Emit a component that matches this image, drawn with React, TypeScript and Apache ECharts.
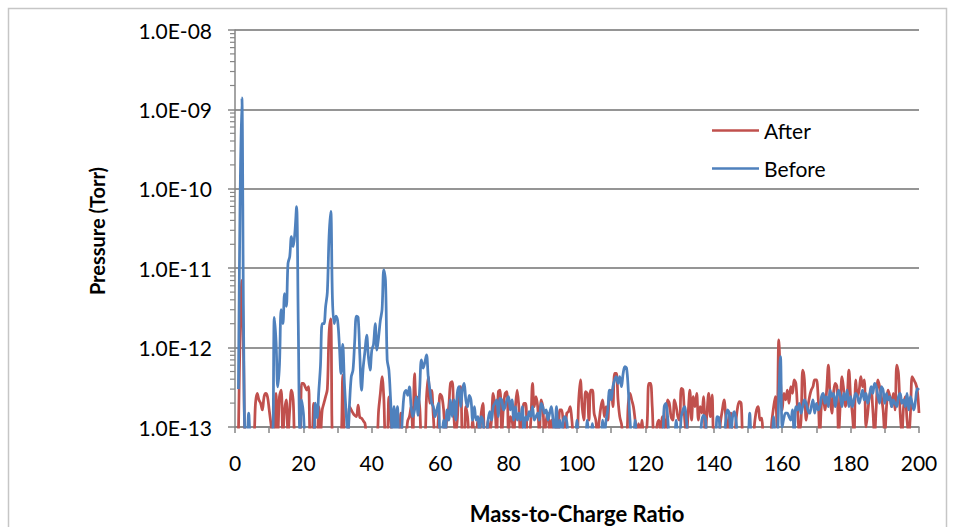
import React, { useEffect, useRef } from "react";
import * as echarts from "echarts";

// Mass-to-charge grid: first value and spacing (amu)
const MZ_START = 1;
const MZ_STEP = 0.5;
// Pressure values are given in units of 1e-13 Torr
const UNIT = 1e-13;

const seriesNames = ["After", "Before"];

// After (red), m/z 1.0 .. 200.0 every 0.5
const afterValues = [
  0.8, 15, 70, 8, 0.8, 0.8, 0.8, 0.8, 0.8, 0.8,
  2.0, 2.65, 2.19, 1.99, 1.64, 2.41, 2.65, 2.41, 1.64, 1.11,
  0.8, 0.8, 2.65, 0.8, 2.41, 2.92, 0.8, 1.64, 2.19, 0.8,
  1.64, 2.92, 2.19, 0.8, 0.8, 0.8, 0.8, 3.55, 3.55, 3.22,
  2.92, 3.22, 0.8, 0.8, 1.99, 0.8, 0.8, 1.8, 0.8, 1.64,
  2.0, 2.41, 3, 15, 23, 0.8, 0.8, 0.8, 0.8, 0.8,
  0.8, 4.5, 0.8, 0.8, 0.8, 1.8, 1.64, 1.5, 1.4, 1.35,
  1.89, 1.32, 1.29, 1.2, 1.11, 0.8, 0.8, 0.8, 0.8, 0.8,
  0.8, 0.8, 1.64, 2.65, 4.3, 2.4, 0.8, 0.8, 2.4, 1.35,
  0.8, 0.8, 0.8, 0.8, 0.8, 1.5, 0.8, 0.8, 0.8, 1.2,
  1.35, 1.8, 0.8, 4.7, 2.2, 2.4, 1.8, 0.8, 0.8, 0.8,
  2.4, 4.3, 2.0, 2.9, 1.35, 0.8, 0.8, 1.35, 2.6, 2.4,
  1.64, 0.8, 1.35, 1.8, 3.55, 3.72, 1.35, 0.8, 1.22, 3.07,
  3.22, 0.8, 0.8, 1.8, 1.35, 0.8, 0.8, 1.22, 0.8, 0.8,
  1.22, 0.8, 1.49, 1.99, 0.8, 0.8, 1.22, 0.8, 1.22, 2.65,
  1.8, 0.8, 2.78, 2.92, 0.8, 1.8, 2.65, 2.78, 0.8, 1.35,
  1.22, 0.8, 1.8, 2.92, 1.8, 0.8, 1.22, 1.99, 1.99, 0.8,
  0.8, 1.22, 3.55, 1.8, 2.41, 1.8, 0.8, 2.19, 1.8, 0.8,
  1.22, 1.49, 0.8, 1.22, 0.8, 0.8, 1.22, 0.8, 1.64, 1.64,
  1.1, 0.8, 1.49, 1.56, 1.8, 1.22, 0.8, 0.8, 0.8, 2.19,
  3.91, 1.8, 1.22, 2.78, 2.65, 1.22, 2.92, 2.92, 1.49, 1.22,
  0.8, 1.22, 1.8, 2.19, 1.35, 1.8, 1.22, 2.65, 2.92, 1.8,
  4.74, 4.74, 2.19, 1.35, 1.1, 0.8, 0.8, 0.8, 1.99, 2.65,
  2.19, 1.8, 1.22, 0.8, 1.1, 0.8, 1.22, 0.8, 0.8, 1.1,
  3.55, 3.55, 1.8, 0.8, 0.8, 1.1, 1.22, 0.8, 1.35, 1.22,
  0.8, 2.19, 1.99, 1.35, 1.22, 2.19, 1.8, 1.35, 1.22, 3.07,
  2.92, 1.22, 0.8, 1.5, 2.92, 1.22, 2.41, 1.8, 2.65, 1.22,
  1.8, 1.5, 2.41, 0.8, 1.5, 2.65, 1.35, 2.53, 0.8, 0.8,
  0.8, 0.8, 1.2, 1.64, 2.19, 1.35, 0.8, 1.35, 1.5, 0.8,
  0.8, 1.22, 1.8, 2.09, 1.99, 0.8, 0.8, 0.8, 0.8, 0.8,
  0.8, 0.8, 1.2, 1.64, 1.8, 1.22, 1.29, 0.8, 0.8, 0.8,
  0.8, 0.8, 1.22, 1.8, 2.41, 1.0, 12.5, 4, 1.64, 2.65,
  2.19, 2.92, 1.99, 3.22, 2.65, 3.91, 3.55, 1.64, 0.9, 1.2,
  5.2, 3.91, 1.22, 1.8, 2.41, 2.92, 3.22, 3.91, 3.91, 2.41,
  0.8, 1.99, 2.41, 1.64, 2.92, 6.0, 2.41, 1.49, 2.65, 3.55,
  3.22, 0.8, 1.99, 4.3, 2.92, 1.8, 2.41, 5.2, 2.41, 1.49,
  0.8, 3.91, 2.41, 2.92, 4.3, 3.22, 3.91, 1.0, 1.49, 2.41,
  2.92, 1.64, 0.8, 1.8, 3.91, 3.22, 2.41, 1.64, 0.8, 1.8,
  2.92, 2.41, 1.8, 2.65, 1.64, 6.0, 4.74, 1.49, 0.8, 1.8,
  2.41, 1.22, 0.8, 1.49, 4.3, 3.91, 3.55, 2.92, 1.5,
];

// Before (blue), m/z 1.0 .. 200.0 every 0.5
const beforeValues = [
  3.0, 800, 14000, 20, 0.8, 0.8, 1.5, 0.8, 0.8, 0.8,
  0.8, 0.8, 0.8, 0.8, 0.8, 0.8, 0.8, 0.8, 0.8, 0.8,
  0.8, 24, 12, 3.2, 6, 30, 20, 48, 33, 115,
  140, 250, 187, 276, 596, 20, 0.8, 2.2, 1.5, 0.8,
  0.8, 0.8, 0.8, 0.8, 0.8, 2.0, 1.3, 2.8, 6, 20,
  20, 33, 50, 250, 520, 40, 20, 25, 22, 11,
  4.7, 11, 3.5, 1.5, 0.8, 2, 4.3, 5.2, 12, 25,
  24, 8, 2.9, 5.7, 9, 14.4, 7.7, 5.2, 9.3, 11,
  20, 9.3, 13.7, 22, 30, 95, 70, 7, 5.2, 2.2,
  0.8, 1.8, 0.8, 1.8, 0.8, 0.8, 1.5, 2.65, 2.9, 2.5,
  3.2, 1.8, 1.35, 1.64, 2.4, 1.4, 3, 7, 5.5, 6.5,
  8.1, 4.3, 2.9, 2.0, 1.8, 1.35, 1.64, 2.0, 0.8, 0.8,
  1.22, 0.8, 1.64, 1.22, 2.19, 1.35, 2.19, 1.22, 2.65, 3.22,
  1.8, 2.92, 3.55, 2.19, 1.8, 2.5, 2.19, 1.22, 1.8, 1.22,
  1.35, 0.8, 1.35, 1.22, 0.8, 0.8, 1.22, 1.56, 1.22, 1.8,
  1.99, 2.19, 1.35, 2.3, 2.19, 1.64, 1.8, 2.19, 2.41, 1.64,
  2.19, 1.22, 1.8, 1.22, 1.49, 1.22, 1.8, 0.8, 1.35, 1.22,
  1.56, 1.35, 1.8, 1.22, 1.35, 1.49, 1.22, 1.99, 1.8, 1.49,
  1.64, 1.22, 1.49, 1.8, 1.22, 0.8, 1.8, 0.8, 1.22, 0.8,
  1.22, 1.35, 1.17, 0.8, 0.8, 0.8, 0.8, 0.8, 1.22, 0.8,
  0.8, 0.8, 0.8, 0.8, 1.22, 0.8, 0.8, 1.1, 0.8, 0.8,
  0.8, 0.8, 0.8, 1.22, 0.8, 1.22, 1.64, 2.92, 2.19, 3.22,
  3.91, 4.3, 3.55, 4.3, 3.22, 4.74, 5.75, 5.5, 2.92, 1.22,
  0.8, 0.8, 1.22, 0.8, 0.8, 0.8, 0.8, 0.8, 0.8, 0.8,
  0.8, 0.8, 0.8, 0.8, 0.8, 0.8, 0.8, 0.8, 0.8, 1.8,
  1.99, 1.35, 0.8, 0.8, 0.8, 0.8, 1.22, 0.8, 0.8, 1.35,
  1.64, 1.8, 1.22, 0.8, 0.8, 0.8, 0.8, 0.8, 0.8, 0.8,
  0.8, 1.22, 1.4, 1.3, 0.8, 0.8, 0.8, 0.8, 0.8, 0.8,
  1.35, 1.3, 0.8, 0.8, 0.8, 1.2, 1.64, 1.5, 0.8, 1.35,
  1.56, 1.22, 0.8, 0.8, 0.8, 0.8, 0.8, 0.8, 0.8, 1.49,
  0.8, 0.8, 0.8, 0.8, 0.8, 0.8, 0.8, 0.8, 0.8, 0.8,
  0.8, 0.8, 0.8, 1.35, 0.8, 0.8, 2.41, 7.7, 1.0, 1.3,
  1.49, 1.49, 1.35, 1.22, 1.64, 0.8, 1.8, 1.64, 1.99, 1.49,
  1.8, 2.19, 1.99, 1.64, 1.49, 1.8, 2.19, 1.49, 1.99, 1.64,
  1.8, 2.41, 2.65, 1.99, 2.41, 1.8, 2.92, 2.41, 2.65, 1.8,
  2.41, 2.92, 2.41, 1.8, 2.65, 2.19, 2.92, 1.8, 2.41, 1.8,
  2.19, 2.65, 2.41, 1.99, 2.41, 2.92, 2.19, 2.65, 1.99, 2.41,
  3.22, 2.65, 3.55, 3.22, 2.41, 1.99, 3.22, 2.92, 1.99, 2.65,
  2.19, 2.41, 1.8, 2.19, 1.99, 1.8, 2.41, 2.65, 1.99, 2.19,
  1.8, 2.65, 1.64, 2.41, 1.99, 1.64, 2.19, 3.05, 2.92,
];

// Axis ticks
const yTickValues = [1e-13, 1e-12, 1e-11, 1e-10, 1e-9, 1e-8];
const yTickLabels = ["1.0E-13", "1.0E-12", "1.0E-11", "1.0E-10", "1.0E-09", "1.0E-08"];
const yMinorMultipliers = [2, 3, 4, 5, 6, 7, 8, 9];
const xMin = 0;
const xMax = 200;
const xTickStep = 10;
const xLabelStep = 20;

const COLORS = ["#C0504D", "#4F81BD"];
const AXIS_COLOR = "#868686";
const FONT = "Lato";

function toPairs(values: number[]) {
  return values.map((v, i) => [MZ_START + i * MZ_STEP, v * UNIT]);
}

export default function App() {
  const ref = useRef<HTMLDivElement>(null);

  useEffect(() => {
    if (!ref.current) return;
    const chart = echarts.init(ref.current, undefined, { renderer: "svg" });

    const minorData: number[][] = [];
    for (let d = 0; d < yTickValues.length - 1; d++) {
      for (const m of yMinorMultipliers) minorData.push([xMin, yTickValues[d] * m]);
    }

    const lineSeries = [afterValues, beforeValues].map((vals, i) => ({
      name: seriesNames[i],
      type: "line",
      data: toPairs(vals),
      showSymbol: false,
      symbol: "none",
      smooth: 0.35,
      clip: true,
      lineStyle: { color: COLORS[i], width: 2.75 },
      itemStyle: { color: COLORS[i] },
      z: 3 + i,
    }));

    const option: any = {
      animation: false,
      backgroundColor: "#ffffff",
      textStyle: { fontFamily: FONT },
      grid: {
        left: 235,
        right: 36,
        top: 30,
        bottom: 100,
        containLabel: false,
        outerBoundsMode: "none",
      },
      legend: {
        data: seriesNames,
        orient: "vertical",
        left: 707,
        top: 115,
        itemWidth: 47,
        itemHeight: 14,
        itemGap: 17,
        icon: "path://M0,6 L47,6 L47,8.5 L0,8.5 Z",
        textStyle: { fontSize: 21, fontFamily: FONT, color: "#000", lineHeight: 21, padding: [0, 0, 0, 0] },
      },
      xAxis: {
        type: "value",
        min: xMin,
        max: xMax,
        interval: xTickStep,
        axisLine: { show: true, onZero: false, lineStyle: { color: AXIS_COLOR, width: 1.5 } },
        axisTick: { show: true, length: 6, lineStyle: { color: AXIS_COLOR, width: 1.5 } },
        axisLabel: {
          margin: 25,
          fontSize: 21,
          fontFamily: FONT,
          color: "#000",
          formatter: (v: number) => (v % xLabelStep === 0 ? String(v) : ""),
        },
        splitLine: { show: false },
      },
      yAxis: {
        type: "log",
        logBase: 10,
        min: yTickValues[0],
        max: yTickValues[yTickValues.length - 1],
        splitNumber: 5,
        axisLine: { show: true, lineStyle: { color: AXIS_COLOR, width: 1.5 } },
        axisTick: { show: true, length: 7, lineStyle: { color: AXIS_COLOR, width: 1.5 } },
        axisLabel: {
          margin: 23,
          fontSize: 21,
          fontFamily: FONT,
          color: "#000",
          formatter: (v: number) => {
            const idx = yTickValues.findIndex((t) => Math.abs(Math.log10(t) - Math.log10(v)) < 0.01);
            return idx >= 0 ? yTickLabels[idx] : "";
          },
        },
        splitLine: { show: true, lineStyle: { color: "#959595", width: 2 } },
      },
      series: [
        ...lineSeries,
        {
          type: "custom",
          name: "minorTicks",
          silent: true,
          clip: false,
          z: 1,
          data: minorData,
          renderItem: (_params: any, api: any) => {
            const p = api.coord([api.value(0), api.value(1)]);
            return {
              type: "line",
              shape: { x1: p[0] - 5, y1: p[1], x2: p[0], y2: p[1] },
              style: { stroke: AXIS_COLOR, lineWidth: 1.2 },
            };
          },
        },
      ],
      graphic: [
        {
          type: "rect",
          silent: true,
          shape: { x: 8.5, y: 8.5, width: 938, height: 540 },
          style: { fill: "none", stroke: "#C6C6C6", lineWidth: 1.5 },
        },
        {
          type: "text",
          x: 97,
          y: 231,
          rotation: Math.PI / 2,
          style: {
            text: "Pressure (Torr)",
            fontSize: 20,
            fontWeight: "bold",
            fontFamily: FONT,
            fill: "#000",
            align: "center",
            verticalAlign: "middle",
            textAlign: "center",
            textVerticalAlign: "middle",
          },
        },
        {
          type: "text",
          x: 577,
          y: 513,
          style: {
            text: "Mass-to-Charge Ratio",
            fontSize: 22,
            fontWeight: "bold",
            fontFamily: FONT,
            fill: "#000",
            align: "center",
            verticalAlign: "middle",
            textAlign: "center",
            textVerticalAlign: "middle",
          },
        },
      ],
    };

    chart.setOption(option);
    return () => chart.dispose();
  }, []);

  return (
    <div
      ref={ref}
      style={{ position: "fixed", left: 0, top: 0, width: 955, height: 527, background: "#fff" }}
    />
  );
}
